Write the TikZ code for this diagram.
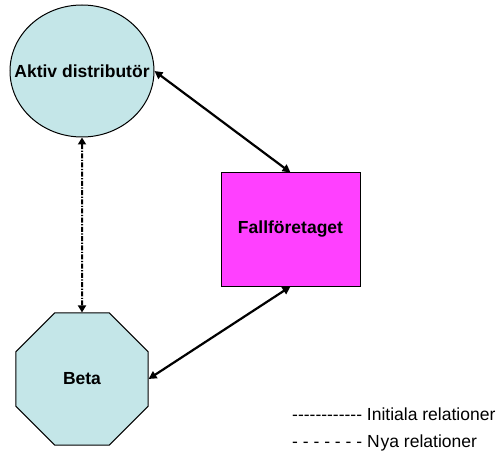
\documentclass[tikz,border=0pt]{standalone}
\usepackage{fontspec}
\setmainfont{Liberation Sans}[Ligatures=TeXReset]
\usetikzlibrary{shapes.geometric,arrows.meta}
\definecolor{paleteal}{RGB}{196,230,232}
\definecolor{brightmag}{RGB}{255,64,255}
\tikzset{
  entity/.style={draw=black, line width=1pt, font=\bfseries\fontsize{17.5}{20}\selectfont, inner sep=0pt},
  rel/.style={line width=2.2pt, {Triangle[length=8pt,width=8pt]}-{Triangle[length=8pt,width=8pt]}},
  newrel/.style={line width=2pt, dash pattern=on 5pt off 1.5pt on 1.2pt off 1.5pt,
    {Triangle[length=7pt,width=8pt]}-{Triangle[length=7pt,width=8pt]}},
  legend/.style={anchor=west, font=\fontsize{17.5}{20}\selectfont, inner sep=0pt}
}
\begin{document}
\begin{tikzpicture}[x=1pt,y=-1pt]
  \useasboundingbox (0,0) rectangle (503,457);
  % actors (negative x-sep lets the wide label fill the ellipse)
  \node[entity, ellipse, fill=paleteal, inner xsep=-25pt, minimum width=144pt, minimum height=132pt] (akt) at (82,71) {Aktiv distributör};
  \node[entity, rectangle, fill=brightmag, minimum width=139pt, minimum height=113pt] (fall) at (290.5,229.5) {Fallföretaget};
  \node[entity, regular polygon, regular polygon sides=8, fill=paleteal, minimum size=143pt] (beta) at (82,379) {Beta};
  % relations
  \draw[rel] (akt.east) -- (fall.north);
  \draw[rel] (fall.south) -- (beta.east);
  \draw[newrel] (akt.south) -- (beta.north);
  % key
  \node[legend] (k1) at (292,414) {------------ Initiala relationer};
  \node[legend] (k2) at (292,443) {- - - - - - - N\hspace{1pt}ya relationer};
\end{tikzpicture}
\end{document}
